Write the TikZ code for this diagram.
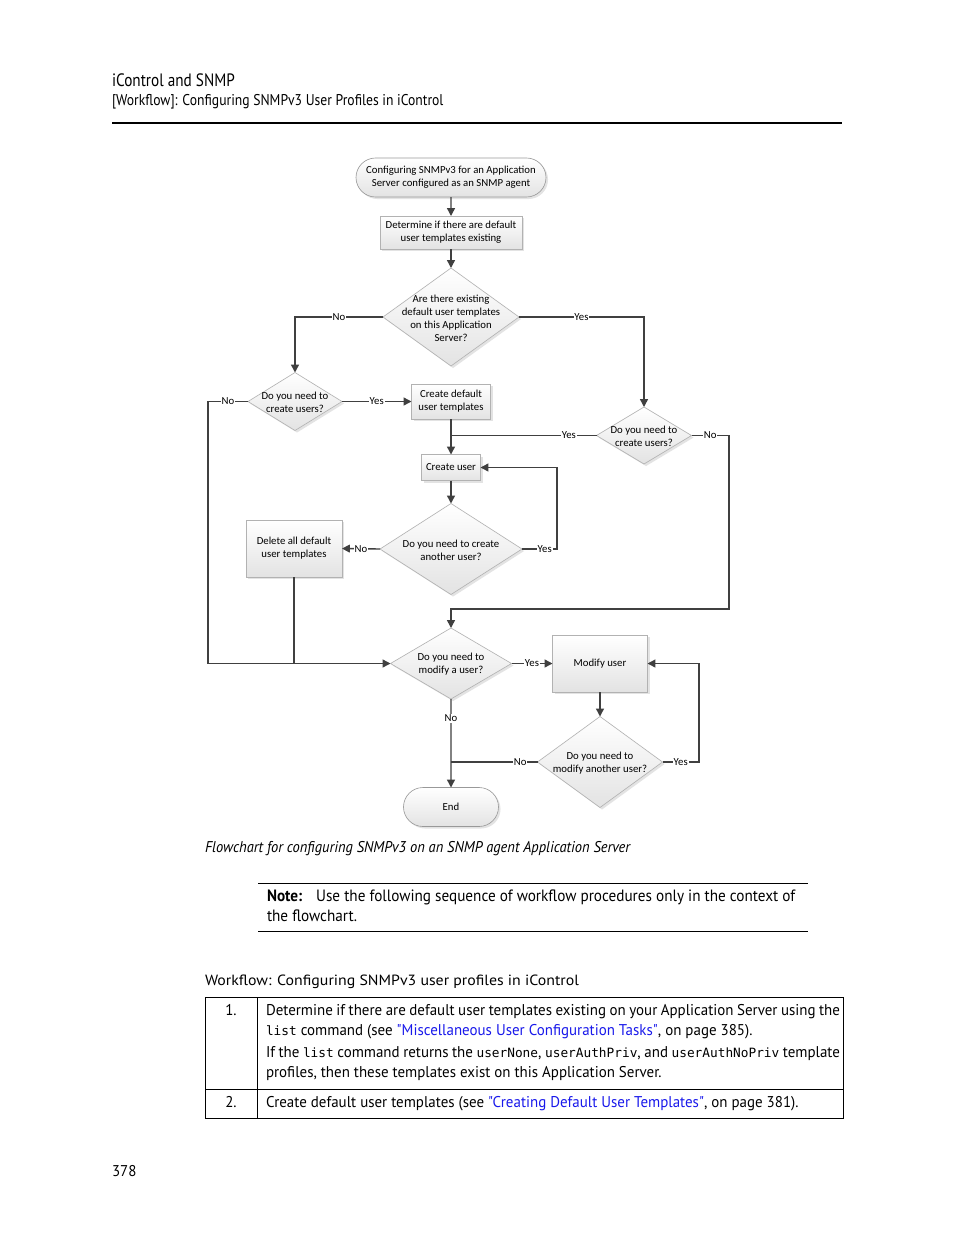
\documentclass[tikz,border=0pt]{standalone}
\usepackage{fontspec}
\setmainfont{PT Sans}
\setmonofont{DejaVu Sans Mono}
\newfontfamily\chartfont{Carlito}
\newfontfamily\condfont{PT Sans}[FakeStretch=0.85]
\newfontfamily\headfont{PT Sans}[FakeStretch=0.875]
\newfontfamily\capfont{PT Sans}[FakeStretch=0.93]
\newfontfamily\bodyfont{PT Sans}[FakeStretch=0.96]
\newfontfamily\notefont{PT Sans}[FakeStretch=0.93]
\newfontfamily\widefont{PT Sans}[FakeStretch=1.07]
\usetikzlibrary{arrows.meta,shapes.geometric,shapes.misc,shadows,positioning}
\definecolor{linkblue}{RGB}{25,25,235}
\definecolor{flowline}{RGB}{64,64,64}
\newcommand{\pxu}{0.6415pt}
\newcommand{\cmd}[1]{{\ttfamily\fontsize{8.2}{10}\selectfont #1}}
\newcommand{\lnk}[1]{{\color{linkblue}#1}}

\begin{document}
\begin{tikzpicture}[
  x=\pxu, y=-\pxu,
  every node/.style={inner sep=0pt, outer sep=0pt},
  chart/.style={font=\chartfont\fontsize{6.9}{8.3}\selectfont, align=center},
  shade/.style={top color=white, bottom color=black!11,
                drop shadow={opacity=0.22, shadow xshift=1.3pt, shadow yshift=-1.3pt}},
  term/.style={chart, shade, rounded rectangle, draw=black!40},
  proc/.style={chart, shade, rectangle, draw=black!30},
  dec/.style={shade, diamond, draw=black!30},
  dectext/.style={chart, yshift=-0.6pt},
  conn/.style={draw=flowline, line width=0.9pt},
  arrow/.style={conn, -{Triangle[length=5pt, width=5pt]}},
  yn/.style={chart, fill=white, inner sep=0.6pt},
  txt/.style={anchor=base west},
]
\useasboundingbox[fill=white] (0,0) rectangle (954,1235);

%% Page header
\node[txt, font=\condfont\fontsize{11.5}{13}\selectfont] (hdrA) at (112,86) {iControl and SNMP};
\node[txt, font=\headfont\fontsize{10}{12}\selectfont] (hdrB) at (112,105)
  {[Workflow]: Configuring SNMPv3 User Profiles in iControl};
\draw[line width=2*\pxu] (112,123) -- (842,123);

%% Flowchart nodes
\node[term, minimum width=190*\pxu, minimum height=39*\pxu] (start) at (451,177.5)
  {Configuring SNMPv3 for an Application\\Server configured as an SNMP agent};
\node[proc, minimum width=142*\pxu, minimum height=33*\pxu] (chkdef) at (451,232.5)
  {Determine if there are default\\user templates existing};
\node[dec, minimum width=136*\pxu, minimum height=98*\pxu,
  label={[dectext]center:{Are there existing\\default user templates\\on this Application\\Server?}}]
  (qexist) at (451,317) {};
\node[dec, minimum width=94*\pxu, minimum height=58*\pxu,
  label={[dectext]center:{Do you need to\\create users?}}] (qcreateL) at (295,401.5) {};
\node[proc, minimum width=79*\pxu, minimum height=35*\pxu] (mkdefault) at (451,401.5)
  {Create default\\user templates};
\node[dec, minimum width=95*\pxu, minimum height=57*\pxu,
  label={[dectext]center:{Do you need to\\create users?}}] (qcreateR) at (644,435.5) {};
\node[proc, minimum width=59*\pxu, minimum height=26*\pxu] (mkuser) at (451,467.5) {Create user};
\node[dec, minimum width=142*\pxu, minimum height=91*\pxu,
  label={[dectext]center:{Do you need to create\\another user?}}] (qanother) at (451,549) {};
\node[proc, minimum width=96*\pxu, minimum height=57*\pxu] (deldefault) at (294,548.5)
  {Delete all default\\user templates};
\node[dec, minimum width=121*\pxu, minimum height=71*\pxu,
  label={[dectext]center:{Do you need to\\modify a user?}}] (qmodify) at (451,663.5) {};
\node[proc, minimum width=95*\pxu, minimum height=57*\pxu] (moduser) at (600,663.5) {Modify user};
\node[dec, minimum width=125*\pxu, minimum height=91*\pxu,
  label={[dectext]center:{Do you need to\\modify another user?}}] (qmodanother) at (600,762) {};
\node[term, minimum width=95*\pxu, minimum height=39*\pxu] (finish) at (451,807) {End};

%% Bends
\coordinate (leftrun) at (208,401.5);
\coordinate (rightrun) at (729,435.5);
\coordinate (merge) at (451,609);
\coordinate (loopA) at (557,549);
\coordinate (loopB) at (699,762);

%% Connectors
\draw[arrow] (start) -- (chkdef);
\draw[arrow] (chkdef) -- (qexist);
\draw[arrow] (qexist.west) -| node[yn, pos=0.25]{No} (qcreateL.north);
\draw[arrow] (qexist.east) -| node[yn, pos=0.25]{Yes} (qcreateR.north);
\draw[arrow] (qcreateL.east) -- node[yn]{Yes} (mkdefault.west);
\draw[arrow] (qcreateL.west) -- node[yn]{No} (leftrun) |- (qmodify.west);
\draw[arrow] (mkdefault) -- (mkuser);
\draw[conn] (qcreateR.west) -- node[yn, pos=0.19]{Yes} (qcreateR.west -| mkdefault.south);
\draw[arrow] (qcreateR.east) -- node[yn]{No} (rightrun) |- (merge) -- (qmodify.north);
\draw[arrow] (mkuser) -- (qanother);
\draw[arrow] (qanother.east) -- node[yn, pos=0.65]{Yes} (loopA) |- (mkuser.east);
\draw[arrow] (qanother.west) -- node[yn]{No} (deldefault.east);
\draw[conn] (deldefault.south) -- (deldefault.south |- qmodify.west);
\draw[arrow] (qmodify.east) -- node[yn]{Yes} (moduser.west);
\draw[arrow] (moduser) -- (qmodanother);
\draw[arrow] (qmodanother.east) -- node[yn]{Yes} (loopB) |- (moduser.east);
\draw[conn] (qmodanother.west) -- node[yn, pos=0.2]{No} (qmodanother.west -| qmodify.south);
\draw[arrow] (qmodify.south) -- node[yn, pos=0.22]{No} (finish);

%% Caption
\node[txt, font=\capfont\itshape\fontsize{10}{12}\selectfont] (caption) at (205,852.5)
  {Flowchart for configuring SNMPv3 on an SNMP agent Application Server};

%% Note
\draw[line width=\pxu] (258,883) -- (808,883);
\draw[line width=\pxu] (258,931) -- (808,931);
\node[txt, font=\notefont\fontsize{10.5}{12}\selectfont] (noteA) at (267,901.5)
  {\textbf{Note:}\hspace{0.85em}Use the following sequence of workflow procedures only in the context of};
\node[txt, font=\notefont\fontsize{10.5}{12}\selectfont] (noteB) at (267,921.5) {the flowchart.};

%% Workflow table
\node[txt, font=\widefont\fontsize{9.5}{11}\selectfont] (wftitle) at (205,985)
  {Workflow: Configuring SNMPv3 user profiles in iControl};
\draw[line width=\pxu] (205,997) rectangle (843,1118);
\draw[line width=\pxu] (257,997) -- (257,1118);
\draw[line width=\pxu] (205,1089) -- (843,1089);
\begin{scope}[every node/.append style={font=\bodyfont\fontsize{10}{12}\selectfont}]
\node[anchor=base] (numA) at (231,1015.5) {1.};
\node[txt] (rowAa) at (266,1015.5)
  {\makebox[368.2pt][s]{Determine if there are default user templates existing on your Application Server using the}};
\node[txt] (rowAb) at (266,1035.5)
  {\cmd{list} command (see \lnk{"Miscellaneous User Configuration Tasks"}, on page 385).};
\node[txt] (rowAc) at (266,1057.5)
  {\makebox[368.2pt][s]{If the \cmd{list} command returns the \cmd{userNone}, \cmd{userAuthPriv}, and \cmd{userAuthNoPriv} template}};
\node[txt] (rowAd) at (266,1077.5)
  {profiles, then these templates exist on this Application Server.};
\node[anchor=base] (numB) at (231,1107.5) {2.};
\node[txt] (rowB) at (266,1107.5)
  {Create default user templates (see \lnk{"Creating Default User Templates"}, on page 381).};
\end{scope}

%% Page number
\node[txt, font=\bodyfont\fontsize{10}{12}\selectfont] (pageno) at (112,1176) {378};
\end{tikzpicture}
\end{document}
